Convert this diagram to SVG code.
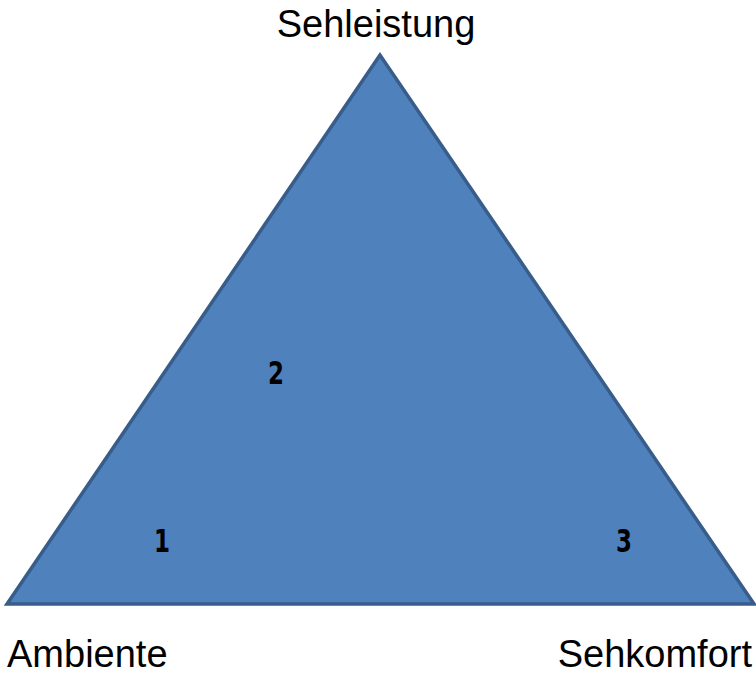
<svg xmlns="http://www.w3.org/2000/svg" width="756" height="676" viewBox="0 0 756 676">
<style>
.lbl{font-family:"Liberation Sans",Arial,sans-serif;font-size:38px;fill:#000}
.num{font-family:"DejaVu Sans Condensed","DejaVu Sans",sans-serif;font-weight:bold;font-size:30px;fill:#000}
</style>
<rect width="756" height="676" fill="#fff"/>
<g id="triangle">
<polygon points="380,55 7,604 754,604" fill="#4f81bd" stroke="#385d8a" stroke-width="3.5" stroke-linejoin="miter"/>
</g>
<g id="n2"><text class="num" text-anchor="middle" transform="translate(276,384) scale(0.85,1.05)">2</text></g>
<g id="n1"><text class="num" text-anchor="middle" transform="translate(162,552) scale(0.85,1.05)">1</text></g>
<g id="n3"><text class="num" text-anchor="middle" transform="translate(624,552) scale(0.85,1.05)">3</text></g>
<g id="sehleistung"><text class="lbl" x="376" y="37" text-anchor="middle">Sehleistung</text></g>
<g id="ambiente"><text class="lbl" x="7" y="667">Ambiente</text></g>
<g id="sehkomfort"><text class="lbl" x="752" y="667" text-anchor="end">Sehkomfort</text></g>
<g id="connectors"></g>
</svg>
